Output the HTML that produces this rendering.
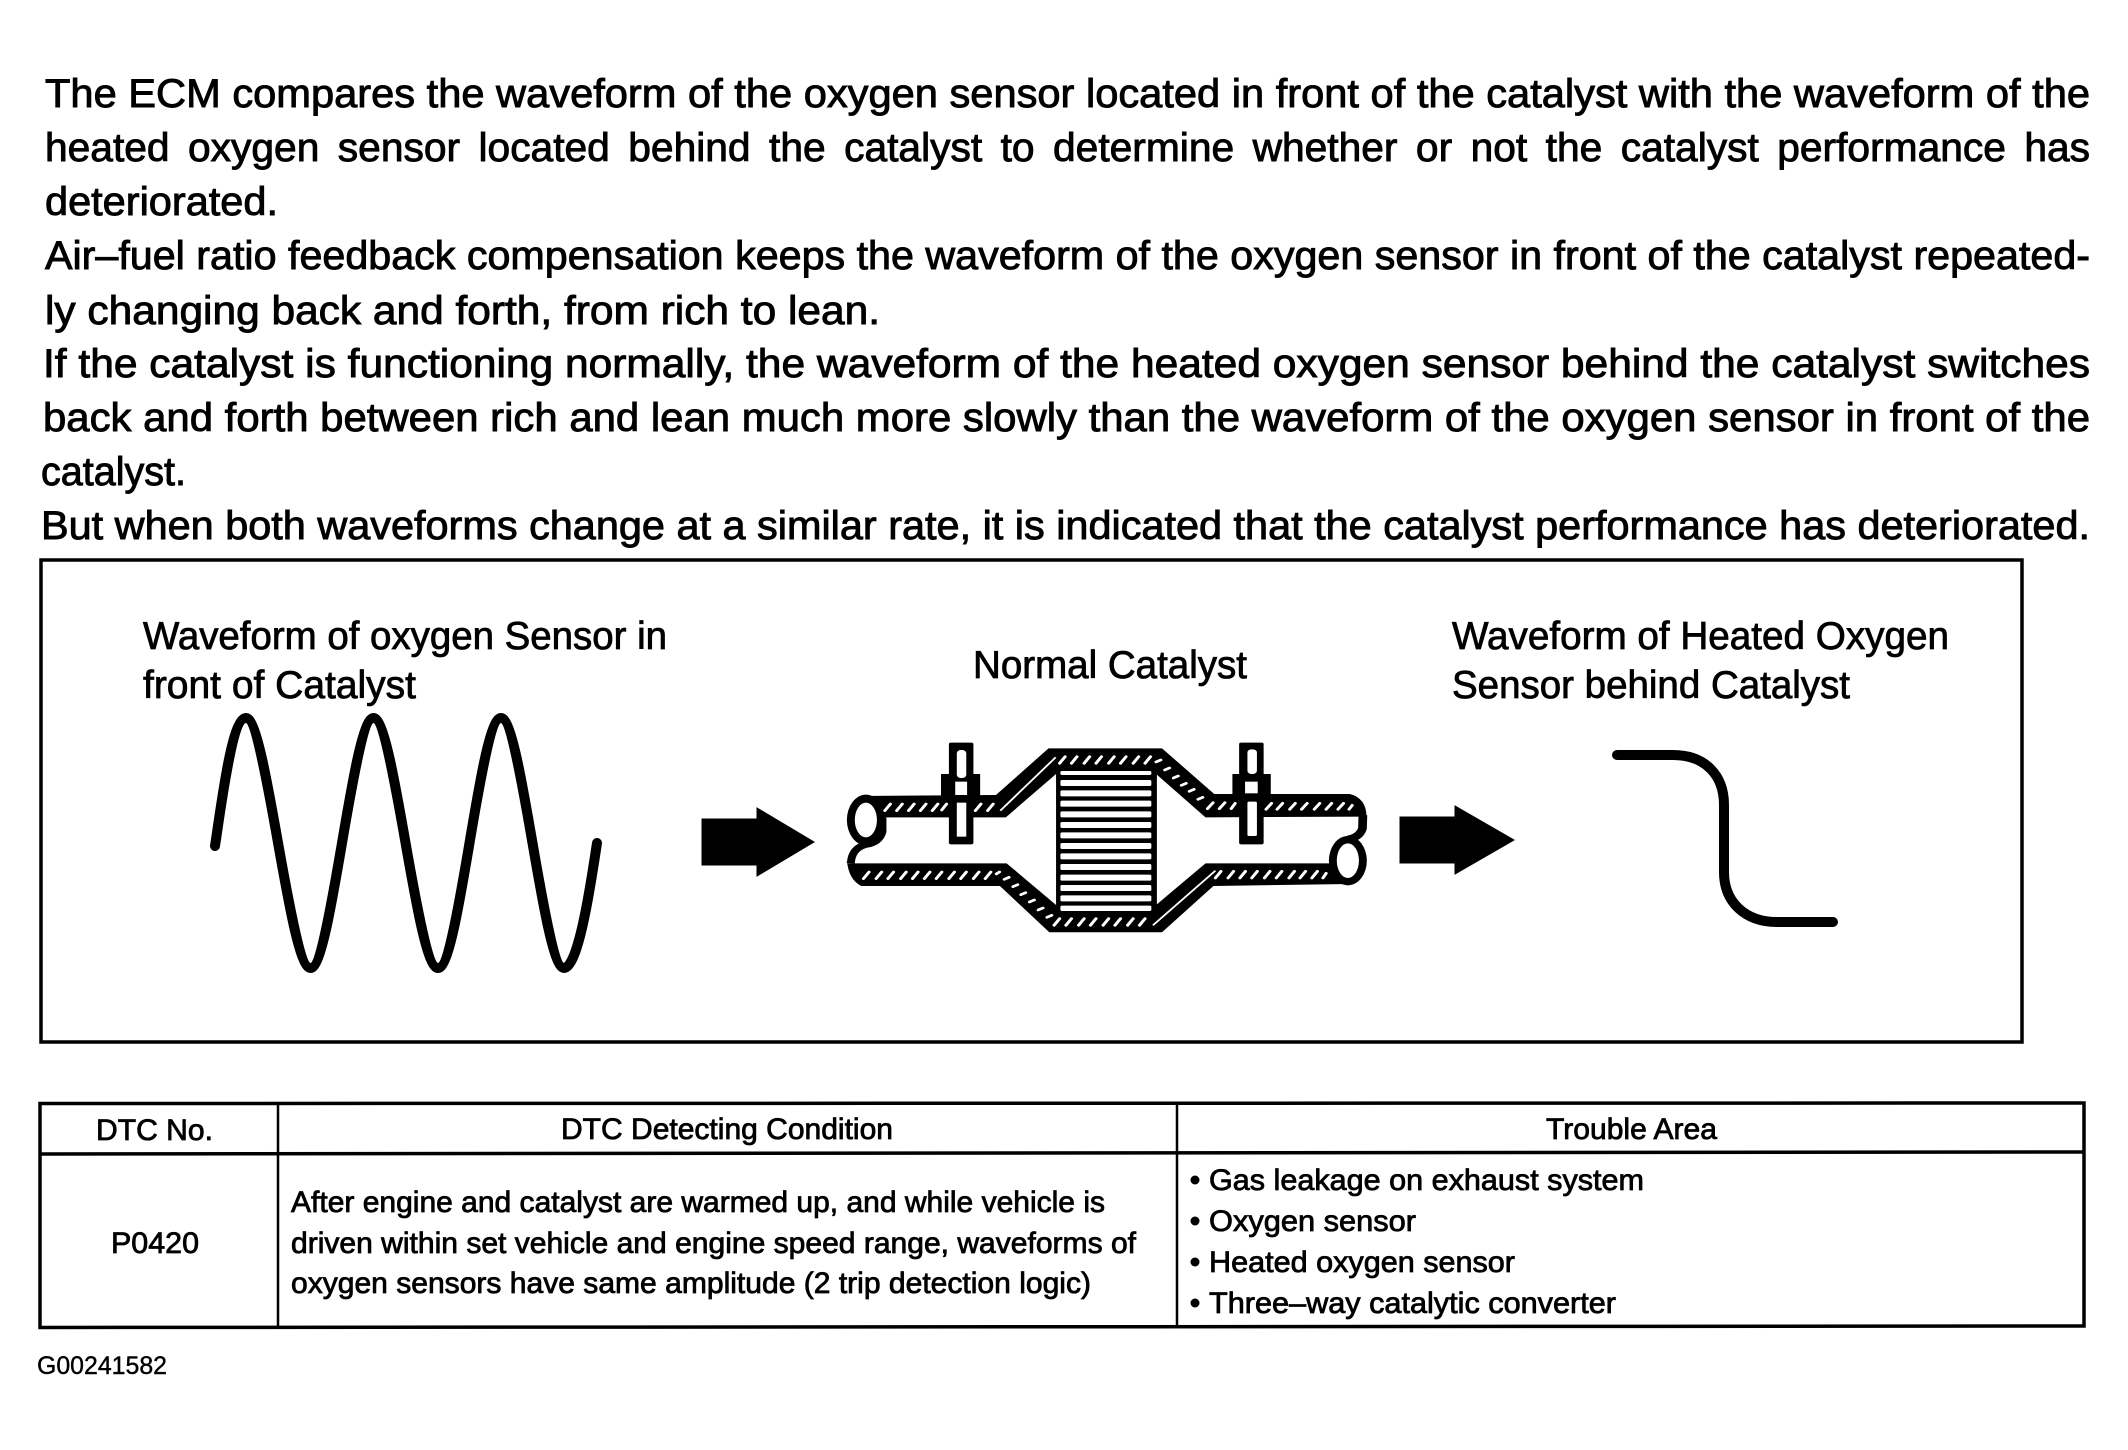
<!DOCTYPE html>
<html>
<head>
<meta charset="utf-8">
<style>
html,body{margin:0;padding:0;background:#fff;}
svg{display:block;}
text{font-family:"Liberation Sans",sans-serif;fill:#000;stroke:#000;}
.p{font-size:40px;stroke-width:.9px;}
.l{font-size:39px;stroke-width:.8px;}
.t{font-size:30px;stroke-width:.8px;}
.g{font-size:25px;stroke-width:.4px;}
</style>
</head>
<body>
<svg width="2128" height="1450" viewBox="0 0 2128 1450" xmlns="http://www.w3.org/2000/svg">
<rect width="2128" height="1450" fill="#fff"/>

<g class="para">
<text class="p" x="45" y="107" textLength="2045" lengthAdjust="spacingAndGlyphs">The ECM compares the waveform of the oxygen sensor located in front of the catalyst with the waveform of the</text>
<text class="p" x="45" y="161" textLength="2045" lengthAdjust="spacingAndGlyphs" word-spacing="7">heated oxygen sensor located behind the catalyst to determine whether or not the catalyst performance has</text>
<text class="p" x="45" y="215" textLength="233" lengthAdjust="spacingAndGlyphs">deteriorated.</text>
<text class="p" x="45" y="269" textLength="2045" lengthAdjust="spacingAndGlyphs">Air–fuel ratio feedback compensation keeps the waveform of the oxygen sensor in front of the catalyst repeated-</text>
<text class="p" x="45" y="324" textLength="835" lengthAdjust="spacingAndGlyphs">ly changing back and forth, from rich to lean.</text>
<text class="p" x="43" y="377" textLength="2047" lengthAdjust="spacingAndGlyphs">If the catalyst is functioning normally, the waveform of the heated oxygen sensor behind the catalyst switches</text>
<text class="p" x="43" y="431" textLength="2047" lengthAdjust="spacingAndGlyphs">back and forth between rich and lean much more slowly than the waveform of the oxygen sensor in front of the</text>
<text class="p" x="41" y="485" textLength="145" lengthAdjust="spacingAndGlyphs">catalyst.</text>
<text class="p" x="41" y="539" textLength="2049" lengthAdjust="spacingAndGlyphs">But when both waveforms change at a similar rate, it is indicated that the catalyst performance has deteriorated.</text>
</g>

<!-- frame -->
<rect x="41" y="560" width="1981" height="482" fill="none" stroke="#000" stroke-width="3.5"/>

<text class="l" x="143" y="649" textLength="524" lengthAdjust="spacingAndGlyphs">Waveform of oxygen Sensor in</text>
<text class="l" x="143" y="698" textLength="273" lengthAdjust="spacingAndGlyphs">front of Catalyst</text>
<text class="l" x="973" y="678" textLength="274" lengthAdjust="spacingAndGlyphs">Normal Catalyst</text>
<text class="l" x="1452" y="649" textLength="497" lengthAdjust="spacingAndGlyphs">Waveform of Heated Oxygen</text>
<text class="l" x="1452" y="698" textLength="398" lengthAdjust="spacingAndGlyphs">Sensor behind Catalyst</text>

<!-- front waveform -->
<path d="M215 846 C222 800 232 718 246 718 C266 718 290 968 310.500 968 C331 968 353 718 373.500 718 C394 718 417 968 438 968 C459 968 480 718 501 718 C521 718 544 968 564 968 C578 968 590 890 597 843" fill="none" stroke="#000" stroke-width="10" stroke-linecap="round"/>

<!-- arrows -->
<polygon points="702,819 757,819 757,808 814,842 757,876 757,865 702,865" fill="#000" stroke="#000" stroke-width="1"/>
<polygon points="1400,817 1455,817 1455,806 1514,840 1455,874 1455,863 1400,863" fill="#000" stroke="#000" stroke-width="1"/>

<!-- rear waveform -->
<path d="M1617 755 L1673 755 C1705 755 1724 775 1724 805 L1724 872 C1724 902 1745 922 1777 922 L1833 922" fill="none" stroke="#000" stroke-width="10" stroke-linecap="round"/>

<!-- catalytic converter, drawn in zoom coordinates -->
<g transform="translate(820,700) scale(0.3954,0.3333)">
  <!-- upper shell -->
  <path d="M100 288 L445 285 L578 145 L865 145 L997 282 L1340 282 Q1382 295 1382 350 L975 352 L850 222 L597 222 L470 352 L150 352 Z" fill="#000"/>
  <!-- lower shell -->
  <path d="M68 480 Q72 540 105 558 L455 558 L580 697 L865 697 L995 558 L1340 552 L1290 490 L975 490 L850 615 L597 615 L472 490 L68 490 Z" fill="#000"/>
  <!-- left end -->
  <path d="M158 352 L158 395 Q150 428 115 434 Q80 445 78 490" fill="none" stroke="#000" stroke-width="20"/>
  <ellipse cx="116" cy="360" rx="48" ry="76" fill="#000"/>
  <ellipse cx="116" cy="360" rx="28" ry="52" fill="#fff"/>
  <!-- right end -->
  <path d="M1373 345 L1372 385 Q1365 412 1335 418" fill="none" stroke="#000" stroke-width="22"/>
  <ellipse cx="1335" cy="482" rx="48" ry="74" fill="#000"/>
  <ellipse cx="1335" cy="482" rx="28" ry="52" fill="#fff"/>

  <!-- core -->
  <rect x="597" y="205" width="255" height="432" fill="#000"/>
  <g fill="#fff">
    <rect x="608" y="213" width="230" height="12" rx="4"/>
    <rect x="608" y="240" width="230" height="18" rx="4"/>
    <rect x="608" y="271" width="230" height="18" rx="4"/>
    <rect x="608" y="302" width="230" height="18" rx="4"/>
    <rect x="608" y="334" width="230" height="18" rx="4"/>
    <rect x="608" y="366" width="230" height="18" rx="4"/>
    <rect x="608" y="397" width="230" height="18" rx="4"/>
    <rect x="608" y="429" width="230" height="18" rx="4"/>
    <rect x="608" y="460" width="230" height="18" rx="4"/>
    <rect x="608" y="492" width="230" height="18" rx="4"/>
    <rect x="608" y="524" width="230" height="18" rx="4"/>
    <rect x="608" y="555" width="230" height="18" rx="4"/>
    <rect x="608" y="586" width="230" height="18" rx="4"/>
    <rect x="608" y="617" width="230" height="16" rx="4"/>
  </g>

  <!-- hatching -->
  <path fill="none" stroke="#fff" stroke-width="8" stroke-linecap="round" d="
    M164 332 l14 -20 M194 332 l14 -20 M224 332 l14 -20 M254 332 l14 -20 M284 332 l14 -20 M308 330 l12 -18
    M393 332 l14 -20 M424 332 l14 -20
    M606 190 l14 -20 M636 190 l14 -20 M668 190 l14 -20 M698 190 l14 -20 M730 190 l14 -20 M760 190 l14 -20 M792 190 l14 -20 M822 190 l14 -20
    M850 186 l12 -6 M872 210 l12 -6 M894 234 l12 -6 M914 256 l12 -6 M934 274 l12 -6 M956 298 l12 -6
    M980 326 l14 -18 M1010 326 l14 -18 M1040 326 l10 -16
    M1128 328 l14 -18 M1156 328 l14 -18 M1188 328 l14 -18 M1218 328 l14 -18 M1250 328 l14 -18 M1280 328 l14 -18 M1310 328 l14 -18 M1338 328 l8 -12
    M110 536 l14 -20 M142 536 l14 -20 M172 536 l14 -20 M204 536 l14 -20 M234 536 l14 -20 M264 536 l14 -20 M294 536 l14 -20 M326 536 l14 -20 M356 536 l14 -20 M388 536 l14 -20 M418 536 l14 -20 M446 522 l8 -6
    M466 538 l12 -6 M488 560 l12 -6 M508 584 l12 -6 M530 606 l12 -6 M552 630 l12 -6 M574 652 l12 -6
    M592 676 l14 -20 M622 676 l14 -20 M654 676 l14 -20 M684 676 l14 -20 M716 676 l14 -20 M746 676 l14 -20 M778 676 l14 -20 M808 676 l14 -20
    M1000 534 l14 -20 M1032 534 l14 -20 M1062 534 l14 -20 M1092 534 l14 -20 M1124 534 l14 -20 M1154 534 l14 -20 M1186 534 l14 -20 M1214 534 l14 -20 M1244 534 l14 -20 M1272 534 l8 -14"/>
  <!-- slits -->
  <path d="M456 332 L596 172 M842 676 L1000 512" fill="none" stroke="#fff" stroke-width="5"/>

  <!-- bolts -->
  <rect x="326" y="128" width="62" height="305" rx="5" fill="#000"/>
  <rect x="306" y="222" width="99" height="66" fill="#000"/>
  <rect x="346" y="150" width="24" height="84" rx="10" fill="#fff"/>
  <rect x="342" y="245" width="30" height="40" fill="#fff"/>
  <rect x="346" y="308" width="24" height="102" fill="#fff"/>
  <rect x="1060" y="128" width="62" height="305" rx="5" fill="#000"/>
  <rect x="1043" y="222" width="97" height="66" fill="#000"/>
  <rect x="1081" y="148" width="24" height="74" rx="10" fill="#fff"/>
  <rect x="1075" y="245" width="32" height="35" fill="#fff"/>
  <rect x="1081" y="305" width="24" height="103" rx="4" fill="#fff"/>
</g>

<!-- table -->
<g fill="none" stroke="#000">
  <path d="M40 1103.500 L2084 1103 L2084 1326 L40 1327.500 Z" stroke-width="3.500"/>
  <path d="M40 1154 L2084 1152" stroke-width="3.500"/>
  <path d="M278 1104 L278 1328 M1177 1104 L1177 1327" stroke-width="2.500"/>
</g>
<text class="t" x="96" y="1140" textLength="117" lengthAdjust="spacingAndGlyphs">DTC No.</text>
<text class="t" x="561" y="1139" textLength="332" lengthAdjust="spacingAndGlyphs">DTC Detecting Condition</text>
<text class="t" x="1546" y="1139" textLength="171" lengthAdjust="spacingAndGlyphs">Trouble Area</text>
<text class="t" x="111" y="1253" textLength="88" lengthAdjust="spacingAndGlyphs">P0420</text>
<text class="t" x="291" y="1212" textLength="814" lengthAdjust="spacingAndGlyphs">After engine and catalyst are warmed up, and while vehicle is</text>
<text class="t" x="291" y="1253" textLength="845" lengthAdjust="spacingAndGlyphs">driven within set vehicle and engine speed range, waveforms of</text>
<text class="t" x="291" y="1293" textLength="800" lengthAdjust="spacingAndGlyphs">oxygen sensors have same amplitude (2 trip detection logic)</text>
<circle cx="1195" cy="1180" r="4.500" fill="#000"/>
<circle cx="1195" cy="1221" r="4.500" fill="#000"/>
<circle cx="1195" cy="1262" r="4.500" fill="#000"/>
<circle cx="1195" cy="1303" r="4.500" fill="#000"/>
<text class="t" x="1209" y="1190" textLength="435" lengthAdjust="spacingAndGlyphs">Gas leakage on exhaust system</text>
<text class="t" x="1209" y="1231" textLength="207" lengthAdjust="spacingAndGlyphs">Oxygen sensor</text>
<text class="t" x="1209" y="1272" textLength="306" lengthAdjust="spacingAndGlyphs">Heated oxygen sensor</text>
<text class="t" x="1209" y="1313" textLength="407" lengthAdjust="spacingAndGlyphs">Three–way catalytic converter</text>

<text class="g" x="37" y="1374" textLength="130" lengthAdjust="spacingAndGlyphs">G00241582</text>
</svg>
</body>
</html>
